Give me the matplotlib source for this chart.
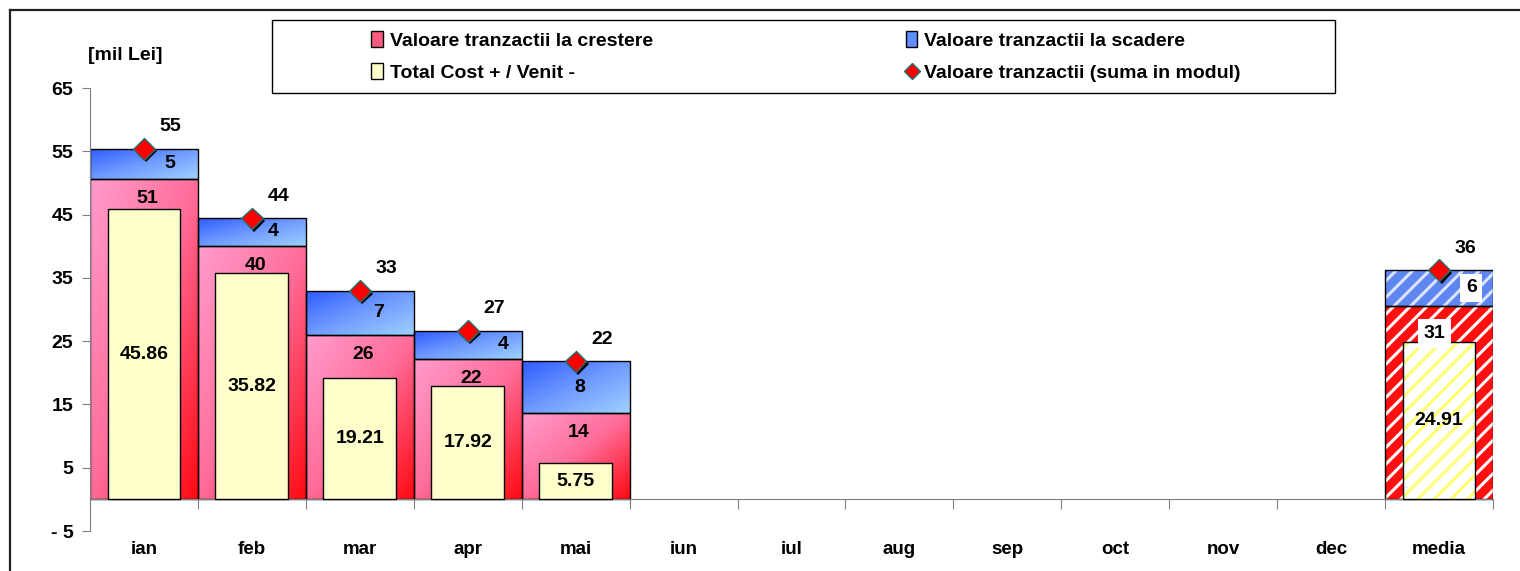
import numpy as np
import matplotlib
matplotlib.use("Agg")
import matplotlib.pyplot as plt
import matplotlib.patheffects as pe
from matplotlib.colors import LinearSegmentedColormap
from matplotlib.patches import Patch, Rectangle
from matplotlib.lines import Line2D

plt.rcParams['font.family'] = ['Liberation Sans', 'DejaVu Sans']
plt.rcParams['font.weight'] = 'bold'
plt.rcParams['hatch.linewidth'] = 2.2

# data (mil Lei)
categories = ['ian', 'feb', 'mar', 'apr', 'mai', 'iun', 'iul', 'aug',
              'sep', 'oct', 'nov', 'dec', 'media']
crestere = [50.6, 40.1, 26.0, 22.2, 13.7]
scadere = [4.8, 4.3, 6.9, 4.4, 8.1]
total_cost = [45.86, 35.82, 19.21, 17.92, 5.75]
media_crestere = 30.6
media_scadere = 5.6
media_cost = 24.91

# label nudges (style only)
blue_dx = [0.24, 0.2, 0.17, 0.33, 0.04]

W, H = 1520, 571
fig = plt.figure(figsize=(W / 100, H / 100), dpi=100)
ax = fig.add_axes([90 / W, 1 - 531 / H, 1403 / W, 443 / H])

red_cmap = LinearSegmentedColormap.from_list('r', ['#ff9ccc', '#ff6d9a', '#ff0a12'])
blue_cmap = LinearSegmentedColormap.from_list('b', ['#2f5cff', '#6f9bff', '#9fd0ff'])

gx, gy = np.meshgrid(np.linspace(0, 1, 60), np.linspace(0, 1, 60))
grad = (gx + (1 - gy)) / 2


def gradient_fill(bars, cmap):
    for b in bars:
        x0, y0 = b.get_x(), b.get_y()
        im = ax.imshow(grad, extent=[x0, x0 + b.get_width(), y0, y0 + b.get_height()],
                       origin='lower', cmap=cmap, aspect='auto', zorder=1.9,
                       interpolation='bilinear')
        im.set_clip_path(b)


xm = np.arange(len(crestere))
red_bars = ax.bar(xm, crestere, width=1, facecolor='none', edgecolor='black', lw=1, zorder=2)
blue_bars = ax.bar(xm, scadere, bottom=crestere, width=1, facecolor='none',
                   edgecolor='black', lw=1, zorder=2)
gradient_fill(red_bars, red_cmap)
gradient_fill(blue_bars, blue_cmap)
ax.bar(xm, total_cost, width=0.675, color='#ffffcc', edgecolor='black', lw=1, zorder=3)

# media column, hatched
im_ = len(categories) - 1
ax.bar(im_, media_crestere, width=1, color='#ff1010', edgecolor='white', hatch='//', lw=0, zorder=2)
ax.bar(im_, media_scadere, bottom=media_crestere, width=1, color='#5f86f0',
       edgecolor='#d8e4ff', hatch='//', lw=0, zorder=2)
ax.bar(im_, media_crestere, width=1, fill=False, edgecolor='black', lw=1, zorder=2.1)
ax.bar(im_, media_scadere, bottom=media_crestere, width=1, fill=False, edgecolor='black', lw=1, zorder=2.1)
ax.bar(im_, media_cost, width=0.675, color='white', edgecolor='#ffff70', hatch='//', lw=0, zorder=3)
ax.bar(im_, media_cost, width=0.675, fill=False, edgecolor='black', lw=1, zorder=3.1)

# totals (suma in modul)
totals = [c + s for c, s in zip(crestere, scadere)]
media_total = media_crestere + media_scadere
tx = list(xm) + [im_]
ty = totals + [media_total]
shadow = [pe.SimplePatchShadow(offset=(1.8, -1.8), shadow_rgbFace='black', alpha=1.0), pe.Normal()]
ax.plot(tx, ty, ls='none', marker='D', ms=11, mfc='#ff0000', mec='#1f7070', mew=1,
        zorder=6, path_effects=shadow)

fs = 14
for i, v in enumerate(ty):
    ax.annotate(f'{v:.0f}', (tx[i], v), xytext=(19, 16), textcoords='offset points',
                ha='center', va='center', fontsize=fs, fontweight='bold', zorder=7)

for i in xm:
    ax.text(i + 0.03, crestere[i] - 3.1, f'{crestere[i]:.0f}', ha='center', va='center',
            fontsize=fs, fontweight='bold', zorder=7)
    ax.text(i + blue_dx[i], crestere[i] + scadere[i] / 2, f'{scadere[i]:.0f}', ha='center',
            va='center', fontsize=fs, fontweight='bold', zorder=7)
    ax.text(i, total_cost[i] / 2, f'{total_cost[i]:.2f}', ha='center', va='center',
            fontsize=fs, fontweight='bold', zorder=7,
            bbox=dict(facecolor='#ffffcc', edgecolor='none', pad=1.5))

wbox = dict(facecolor='white', edgecolor='none', pad=4)
ax.text(im_ - 0.04, media_crestere - 4.4, f'{media_crestere:.0f}', ha='center', va='center',
        fontsize=fs, fontweight='bold', zorder=7, bbox=wbox)
ax.text(im_ + 0.3, media_crestere + media_scadere / 2, f'{media_scadere:.0f}', ha='center',
        va='center', fontsize=fs, fontweight='bold', zorder=7, bbox=wbox)
ax.text(im_, media_cost / 2, f'{media_cost:.2f}', ha='center', va='center',
        fontsize=fs, fontweight='bold', zorder=7)

# axes styling
ax.set_xlim(-0.5, len(categories) - 0.5)
ax.set_ylim(-5, 65)
yt = list(range(-5, 66, 10))
ax.set_yticks(yt)
ax.set_yticklabels(['- 5' if v < 0 else str(v) for v in yt], fontsize=14, fontweight='bold')
ax.set_xticks(np.arange(-0.5, len(categories), 1))
ax.set_xticklabels([])
ax.set_xticks(np.arange(len(categories)), minor=True)
ax.set_xticklabels(categories, minor=True)
ax.tick_params(axis='x', which='minor', length=0, pad=30, labelsize=13.5)
ax.tick_params(axis='x', which='major', length=7, color='#808080', direction='out')
ax.tick_params(axis='y', length=6, color='#808080', direction='out', pad=6)
for s in ['top', 'right']:
    ax.spines[s].set_visible(False)
ax.spines['bottom'].set_position(('data', 0))
ax.spines['bottom'].set_color('#808080')
ax.spines['left'].set_color('#808080')

fig.text(88 / W, 1 - 55 / H, '[mil Lei]', fontsize=14, fontweight='bold', va='center', ha='left')

# outer frame (top and left edges visible)
fig.add_artist(Line2D([10 / W, 1], [1 - 10 / H] * 2, transform=fig.transFigure, color='#222222', lw=1.6))
fig.add_artist(Line2D([10 / W] * 2, [0, 1 - 10 / H], transform=fig.transFigure, color='#222222', lw=1.6))

# legend
fig.add_artist(Rectangle((272 / W, 1 - 93 / H), 1063 / W, 73 / H, transform=fig.transFigure,
                         facecolor='white', edgecolor='black', lw=1, zorder=8))
handles = [Patch(facecolor='#ff5a80', edgecolor='black', lw=1),
           Patch(facecolor='#ffffcc', edgecolor='black', lw=1),
           Patch(facecolor='#5f8fff', edgecolor='black', lw=1),
           Line2D([], [], ls='none', marker='D', ms=8, mfc='#ff0000', mec='#1f7070')]
labels = ['Valoare tranzactii la crestere', 'Total Cost + / Venit -',
          'Valoare tranzactii la scadere', 'Valoare tranzactii (suma in modul)']
leg = fig.legend(handles, labels, ncol=2, loc='center', bbox_to_anchor=(806 / W, 1 - 56.5 / H),
                 frameon=False, prop=dict(size=14, weight='bold'), handlelength=0.6,
                 handleheight=0.9, handletextpad=0.35, columnspacing=13, labelspacing=0.7)
leg.set_zorder(9)

fig.savefig('out.png', dpi=100)
